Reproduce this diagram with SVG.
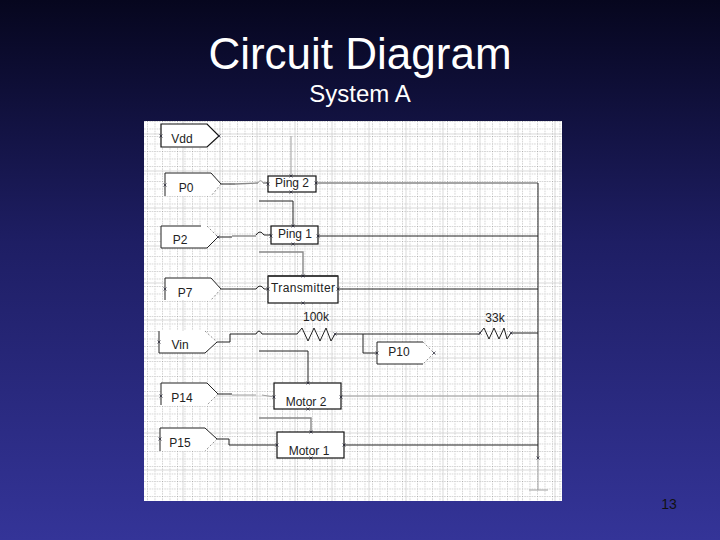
<svg xmlns="http://www.w3.org/2000/svg" xmlns:xlink="http://www.w3.org/1999/xlink" width="720" height="540" viewBox="0 0 720 540">
<style>
text{font-family:"Liberation Sans",Arial,sans-serif}
.t{fill:#fff;text-anchor:middle}
.l{fill:#222;font-size:12px;text-anchor:middle}
.b{fill:#fff;stroke:#111;stroke-width:1.2}
.f{fill:#fff;stroke:none}
.o{fill:none;stroke:#222;stroke-width:1}
.d{fill:none;stroke:#777;stroke-width:.8;stroke-dasharray:2 2}
.w{fill:none;stroke:#222;stroke-width:1}
.g{fill:none;stroke:#888;stroke-width:1.4}
.lg{fill:none;stroke:#a0a0a0;stroke-width:1}
.m{fill:none;stroke:#c8c8c8;stroke-width:.7}
.p{fill:none;stroke:#223;stroke-width:.7}
</style>
<defs>
<linearGradient id="bg" x1="0" y1="0" x2="0" y2="1"><stop offset="0" stop-color="#06061e"/><stop offset=".45" stop-color="#1e1e64"/><stop offset="1" stop-color="#343498"/></linearGradient>
<pattern id="minor" x="147" y="121" width="7.5" height="7.5" patternUnits="userSpaceOnUse">
<path d="M0 .5H7.500M.5 0V7.500" stroke="#a8a8a8" stroke-width=".8" stroke-dasharray="1 1.500" fill="none"/>
</pattern>
<path id="pin" class="p" d="M-1.500-1.500L1.500 1.500M-1.500 1.500L1.500-1.500"/>
</defs>
<rect width="720" height="540" fill="url(#bg)"/>
<g id="sheet">
<rect x="144" y="121" width="418" height="380" fill="#fff"/>
<rect x="144" y="121" width="418" height="380" fill="url(#minor)"/>
<path class="m" d="M144 134H562M144 171H562M144 208H562M144 246H562M144 283H562M144 320H562M144 358H562M144 396H562M144 433H562M144 470H562M183 121V501M220 121V501M257 121V501M295 121V501M332 121V501M369 121V501M406 121V501M443 121V501M480 121V501M518 121V501M555 121V501"/>
</g>
<g id="connectors">
<path class="lg" d="M291 136V176"/>
<path class="w" d="M221 184H235"/><path class="g" d="M235 184L258 183M263 183H268M316 183H538"/><path class="lg" d="M258 183Q260.500 178 263 183"/>
<path class="o" d="M259 201H293V226"/>
<path class="w" d="M218 237H232"/><path class="g" d="M232 236H256"/><path class="w" d="M256 235Q260 229 264 235H271M318 236H538"/>
<path class="g" d="M259 252H303V276"/>
<path class="w" d="M221 289H256Q260 283 264 289H268M338 289H538"/>
<path class="w" d="M217 342H230V334H256Q259 328 262 334H297M335 334H480M511 333H538M363 334V353H377"/>
<path class="o" d="M259 351H308V383"/>
<path class="w" d="M218 394H232"/><path class="lg" d="M232 395H256M262 395L274 397M341 396H538"/>
<path class="g" d="M259 418H311V432"/>
<path class="w" d="M217 439H229V445H277M344 445H538"/>
<path class="w" d="M538 183V458"/>
<path class="lg" d="M538 458V490M529 490H548"/>
</g>
<g id="Vdd"><path class="b" d="M161 124H207L219 136L207 147H161Z"/><text class="l" x="182" y="143">Vdd</text><use href="#pin" x="219" y="136"/><use href="#pin" x="161" y="136"/></g>
<g id="P0"><path class="f" d="M165 173H211L221 184L211 196H165Z"/><path class="o" d="M165 196V173H211L221 184"/><path class="d" d="M221 184L211 196"/><text class="l" x="186" y="192">P0</text><use href="#pin" x="165" y="185"/></g>
<g id="P2"><path class="f" d="M161 226H207L218 237L207 248H161Z"/><path class="o" d="M207 248H161V226H201"/><path class="d" d="M207 226L218 237"/><path class="o" d="M218 237L207 248"/><text class="l" x="180" y="244">P2</text><use href="#pin" x="218" y="237"/></g>
<g id="P7"><path class="f" d="M165 278H211L221 289L211 300H165Z"/><path class="o" d="M165 300V278H211L221 289"/><path class="d" d="M221 289L211 300"/><text class="l" x="185" y="297">P7</text><use href="#pin" x="165" y="289"/></g>
<g id="Vin"><path class="f" d="M159 331H205L217 342L205 353H159Z"/><path class="o" d="M159 331V353H205L217 342"/><path class="d" d="M205 331L217 342"/><text class="l" x="180" y="349">Vin</text><use href="#pin" x="159" y="342"/></g>
<g id="P14"><path class="f" d="M161 383H207L218 394L207 405H161Z"/><path class="o" d="M161 405V383H207L218 394"/><path class="d" d="M218 394L207 405"/><text class="l" x="182" y="402">P14</text><use href="#pin" x="161" y="396"/></g>
<g id="P15"><path class="f" d="M160 428H205L217 439L205 451H160Z"/><path class="o" d="M160 451V428H205L217 439"/><path class="d" d="M217 439L205 451"/><text class="l" x="180" y="447">P15</text><use href="#pin" x="160" y="439"/></g>
<g id="P10"><path class="f" d="M377 342H423L434 353L423 364H377Z"/><path class="o" d="M423 364H377V342H423"/><path class="d" d="M423 342L434 353L423 364"/><text class="l" x="399" y="356">P10</text><use href="#pin" x="377" y="353"/><use href="#pin" x="434" y="353"/></g>
<g id="Ping2"><rect class="b" x="268" y="176" width="48" height="16"/><text class="l" x="292" y="187">Ping 2</text><use href="#pin" x="268" y="184"/><use href="#pin" x="316" y="183"/><use href="#pin" x="291" y="176"/><use href="#pin" x="291" y="192"/></g>
<g id="Ping1"><rect class="b" x="271" y="226" width="47" height="18"/><text class="l" x="295" y="238">Ping 1</text><use href="#pin" x="271" y="236"/><use href="#pin" x="318" y="236"/><use href="#pin" x="293" y="226"/><use href="#pin" x="293" y="244"/></g>
<g id="Transmitter"><rect class="b" x="268" y="276" width="70" height="27"/><path d="M268 276H338" stroke="#333" stroke-width="1.600"/><text class="l" x="303" y="292" textLength="64">Transmitter</text><use href="#pin" x="268" y="289"/><use href="#pin" x="338" y="289"/><use href="#pin" x="303" y="276"/><use href="#pin" x="303" y="303"/></g>
<g id="Motor2"><rect class="b" x="274" y="383" width="67" height="26"/><text class="l" x="306" y="406">Motor 2</text><use href="#pin" x="274" y="397"/><use href="#pin" x="341" y="397"/><use href="#pin" x="308" y="383"/><use href="#pin" x="308" y="409"/></g>
<g id="Motor1"><rect class="b" x="277" y="432" width="67" height="26"/><text class="l" x="309" y="455">Motor 1</text><use href="#pin" x="277" y="445"/><use href="#pin" x="344" y="445"/><use href="#pin" x="311" y="432"/><use href="#pin" x="311" y="458"/></g>
<g id="R100k"><path class="o" d="M297 334L302 328L308 341L314 328L320 341L326 328L331 341L335 334"/><text class="l" x="316" y="321">100k</text><use href="#pin" x="335" y="334"/></g>
<g id="R33k"><path class="o" d="M480 333L484 328L489 339L494 328L499 339L504 328L507 339L511 333"/><text class="l" x="495" y="322">33k</text><use href="#pin" x="480" y="333"/><use href="#pin" x="511" y="333"/></g>
<use href="#pin" x="538" y="458"/>
<g id="titles">
<text class="t" x="360" y="69" font-size="44">Circuit Diagram</text>
<text class="t" x="360" y="102" font-size="24">System A</text>
<text x="669" y="509" font-size="14" fill="#111" text-anchor="middle">13</text>
</g>
</svg>
